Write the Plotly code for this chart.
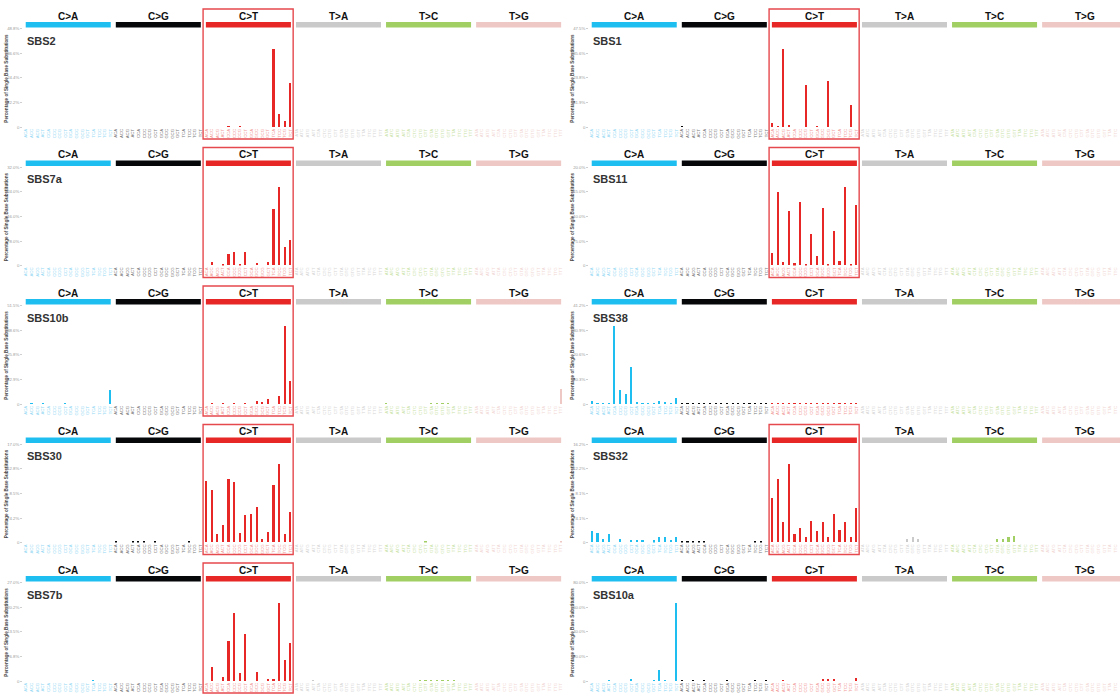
import plotly.graph_objects as go

W, H = 1120, 694

MUTATION_TYPES = ["C>A", "C>G", "C>T", "T>A", "T>C", "T>G"]
TYPE_COLORS = ["#1EBFF0", "#050708", "#E62725", "#CBCACB", "#A1CF64", "#EDC8C5"]
CONTEXT_COLORS = ["#94d8f3", "#777777", "#ef9896", "#d6d6d6", "#c9e2a6", "#f1d6d3"]
BASES = ["A", "C", "G", "T"]

# Percentage of single base substitutions, 96 trinucleotide contexts
# (rows: C>A, C>G, C>T, T>A, T>C, T>G; within each row 5' base slowest, 3' base fastest)
SBS2 = [
    0, 0, 0, 0, 0, 0, 0, 0, 0, 0, 0, 0, 0, 0, 0, 0,
    0, 0, 0, 0, 0, 0, 0, 0, 0, 0, 0, 0, 0, 0, 0, 0,
    0, 0, 0, 0, 0.4, 0, 0.3, 0, 0, 0, 0, 0, 39.0, 6.6, 3.0, 21.8,
    0, 0, 0, 0, 0, 0, 0, 0, 0, 0, 0, 0, 0, 0, 0, 0,
    0, 0, 0, 0, 0, 0, 0, 0, 0, 0, 0, 0, 0, 0, 0, 0,
    0, 0, 0, 0, 0, 0, 0, 0, 0, 0, 0, 0, 0, 0, 0, 0,
]
SBS1 = [
    0, 0, 0, 0, 0, 0, 0, 0, 0, 0, 0, 0, 0, 0, 0, 0,
    0.4, 0, 0, 0, 0, 0, 0, 0, 0, 0, 0, 0, 0, 0, 0, 0,
    2.2, 0.4, 38.0, 1.0, 0, 0, 20.2, 0, 0.4, 0, 22.2, 0, 0, 0, 10.9, 0,
    0, 0, 0, 0, 0, 0, 0, 0, 0, 0, 0, 0, 0, 0, 0, 0,
    0, 0, 0, 0, 0, 0, 0, 0, 0, 0, 0, 0, 0, 0, 0, 0,
    0, 0, 0, 0, 0, 0, 0, 0, 0, 0, 0, 0, 0, 0, 0, 0,
]
SBS7a = [
    0, 0, 0, 0, 0, 0, 0, 0, 0, 0, 0, 0, 0, 0, 0, 0,
    0, 0, 0, 0, 0, 0, 0, 0, 0, 0, 0, 0, 0, 0, 0, 0,
    0, 1.2, 0, 0.4, 3.7, 4.3, 0.4, 4.4, 0, 0.7, 0, 1.2, 18.4, 25.6, 5.8, 8.2,
    0, 0, 0, 0, 0, 0, 0, 0, 0, 0, 0, 0, 0, 0, 0, 0,
    0, 0, 0, 0, 0, 0, 0, 0, 0, 0, 0, 0, 0, 0, 0, 0,
    0, 0, 0, 0, 0, 0, 0, 0, 0, 0, 0, 0, 0, 0, 0, 0,
]
SBS11 = [
    0, 0, 0, 0, 0, 0, 0, 0, 0, 0, 0, 0, 0, 0, 0, 0,
    0, 0, 0, 0, 0, 0, 0, 0, 0, 0, 0, 0, 0, 0, 0, 0,
    2.4, 14.9, 0.7, 11.1, 0.4, 12.8, 0.2, 6.4, 1.9, 11.7, 0.3, 7.0, 0.8, 16.0, 0.2, 12.2,
    0, 0, 0, 0, 0, 0, 0, 0, 0, 0, 0, 0, 0, 0, 0, 0,
    0, 0, 0, 0, 0, 0, 0, 0, 0, 0, 0, 0, 0, 0, 0, 0,
    0, 0, 0, 0, 0, 0, 0, 0, 0, 0, 0, 0, 0, 0, 0, 0,
]
SBS10b = [
    0, 0.4, 0, 0.3, 0, 0, 0, 0.4, 0, 0, 0, 0, 0, 0, 0, 7.6,
    0, 0, 0, 0, 0, 0, 0, 0, 0, 0, 0, 0, 0, 0, 0, 0,
    0, 0.4, 0, 0.4, 0, 0.3, 0, 0.3, 0, 1.5, 1.1, 2.7, 0, 4.1, 41.2, 12.0,
    0, 0, 0, 0, 0, 0, 0, 0, 0, 0, 0, 0, 0, 0, 0, 0,
    0.3, 0, 0, 0, 0, 0, 0, 0, 0.8, 0.5, 0.6, 0.4, 0, 0, 0, 0,
    0, 0, 0, 0, 0, 0, 0, 0, 0, 0, 0, 0, 0, 0, 0, 8.1,
]
SBS38 = [
    1.2, 0.7, 0.2, 0.7, 33.0, 5.9, 4.5, 15.8, 1.0, 0.7, 0.3, 0.7, 1.2, 1.0, 0.3, 2.5,
    0.4, 0.3, 0.3, 0.2, 0.3, 0.2, 0.3, 0.2, 0.2, 0.3, 0.2, 0.2, 0.3, 0.3, 0.4, 0.3,
    0.5, 0.3, 0.4, 0.3, 0.4, 0.3, 0.3, 0.5, 0.3, 0.4, 0.3, 0.4, 0.4, 0.6, 0.3, 0.5,
    0, 0, 0, 0, 0, 0, 0, 0, 0, 0, 0, 0, 0, 0, 0, 0,
    0, 0, 0, 0, 0, 0, 0, 0, 0, 0, 0, 0, 0, 0, 0, 0,
    0, 0, 0, 0, 0, 0, 0, 0, 0, 0, 0, 0, 0, 0, 0, 0,
]
SBS30 = [
    0, 0, 0, 0, 0, 0, 0, 0, 0, 0, 0, 0, 0, 0, 0, 0,
    0.2, 0, 0, 0.3, 0.2, 0.3, 0, 0.2, 0, 0, 0, 0, 0, 0.2, 0, 0,
    10.6, 9.1, 1.4, 3.0, 11.0, 10.5, 1.6, 4.8, 4.9, 6.1, 0.6, 1.8, 9.9, 13.6, 1.5, 5.2,
    0, 0, 0, 0, 0, 0, 0, 0, 0, 0, 0, 0, 0, 0, 0, 0,
    0, 0, 0, 0, 0, 0, 0, 0.3, 0, 0, 0, 0, 0, 0, 0, 0,
    0, 0, 0, 0, 0, 0, 0, 0, 0, 0, 0, 0, 0, 0, 0, 0.2,
]
SBS32 = [
    1.9, 1.5, 0.5, 1.3, 0, 0.5, 0, 0.4, 0.4, 0.4, 0, 0.3, 0.8, 0.8, 0.4, 0.9,
    0.2, 0.2, 0.2, 0.2, 0.2, 0, 0, 0, 0, 0, 0, 0, 0, 0.1, 0.2, 0,
    7.4, 10.5, 3.3, 13.0, 1.4, 2.3, 0.9, 3.6, 1.8, 3.3, 0.9, 4.6, 2.1, 3.4, 0.8, 5.7,
    0, 0, 0, 0, 0, 0, 0, 0, 0.6, 0.8, 0.6, 0, 0, 0, 0, 0,
    0, 0, 0, 0, 0, 0, 0, 0, 0.6, 0.6, 0.8, 1.1, 0, 0, 0, 0,
    0, 0, 0, 0, 0, 0, 0, 0, 0, 0, 0, 0, 0, 0, 0, 0,
]
SBS7b = [
    0, 0, 0, 0, 0, 0, 0, 0, 0, 0, 0, 0, 0.3, 0, 0, 0,
    0, 0, 0, 0, 0, 0, 0, 0, 0, 0, 0, 0, 0, 0, 0, 0,
    0, 3.9, 0, 1.1, 11.0, 18.8, 2.2, 13.0, 0, 2.6, 0, 0.6, 0.6, 21.6, 5.8, 10.4,
    0, 0, 0, 0.3, 0, 0, 0, 0, 0, 0, 0, 0, 0, 0, 0, 0,
    0, 0, 0, 0, 0, 0, 0.2, 0.3, 0.2, 0.4, 0.3, 0.2, 0.3, 0, 0, 0,
    0, 0, 0, 0, 0, 0, 0, 0, 0, 0, 0, 0, 0, 0, 0, 0,
]
SBS10a = [
    0, 0, 0, 1.4, 0, 0, 0, 1.9, 0, 0, 0, 1.4, 9.0, 1.4, 0, 64.0,
    0.3, 0, 0.3, 0, 0.3, 0, 0, 0, 0.3, 0, 0, 0, 0, 0.3, 0, 0.3,
    0, 0, 0.5, 0, 0, 0, 0, 0, 0, 1.7, 1.7, 1.7, 0, 0, 0, 2.6,
    0, 0, 0, 0, 0, 0, 0, 0, 0, 0, 0, 0, 0, 0, 0, 0,
    0, 0, 0, 0, 0, 0, 0, 0, 0, 0, 0, 0, 0, 0, 0, 0,
    0, 0, 0, 0, 0, 0, 0, 0, 0, 0, 0, 0, 0, 0, 0, 0,
]

# (name, values, highlight C>T box), column by column
LEFT_PANELS = [("SBS2", SBS2, True), ("SBS7a", SBS7a, True), ("SBS10b", SBS10b, True),
               ("SBS30", SBS30, True), ("SBS7b", SBS7b, True)]
RIGHT_PANELS = [("SBS1", SBS1, True), ("SBS11", SBS11, True), ("SBS38", SBS38, False),
                ("SBS32", SBS32, True), ("SBS10a", SBS10a, False)]

CONTEXTS = []
CONTEXT_TEXT = []
for k, mt in enumerate(MUTATION_TYPES):
    ref = mt[0]
    for b5 in BASES:
        for b3 in BASES:
            ctx = b5 + ref + b3
            CONTEXTS.append(ctx)
            CONTEXT_TEXT.append(f"<span style='color:{CONTEXT_COLORS[k]}'>{ctx}</span>")
BAR_COLORS = [TYPE_COLORS[i // 16] for i in range(96)]

# page geometry (pixels)
SLOT = 5.63
COL_X0 = [23.2, 589.2]
ROW_PITCH = 139.5
CAT_Y0 = 23.0          # centre of the first row's mutation-type band
BASE_OFFSET = 103.0    # from band centre down to the zero line
TOP_OFFSET = 4.0       # from band centre down to the axis top

FONT = "Liberation Sans, Arial, sans-serif"


def px(x):
    return x / W


def py(y):
    return 1 - y / H


fig = go.Figure()
layout = dict(width=W, height=H, margin=dict(l=0, r=0, t=0, b=0), autosize=False,
              paper_bgcolor="white", plot_bgcolor="white", showlegend=False,
              font=dict(family=FONT), bargap=0)
shapes, annotations = [], []

n = 0
for col, panels in enumerate([LEFT_PANELS, RIGHT_PANELS]):
    x0 = COL_X0[col]
    x_end = min(x0 + 96 * SLOT, W)
    x_hi = -0.5 + (x_end - x0) / SLOT
    for row, (name, vals, box) in enumerate(panels):
        n += 1
        xa = "x" if n == 1 else f"x{n}"
        ya = "y" if n == 1 else f"y{n}"
        xkey = "xaxis" if n == 1 else f"xaxis{n}"
        ykey = "yaxis" if n == 1 else f"yaxis{n}"

        cy = CAT_Y0 + row * ROW_PITCH
        base = cy + BASE_OFFSET
        top = cy + TOP_OFFSET
        ymax = 1.25 * max(vals)
        tickvals = [ymax * i / 4 for i in range(5)]
        ticktext = ["0"] + [f"{v:.1f}%" for v in tickvals[1:]]

        fig.add_trace(go.Bar(x=list(range(96)), y=vals, width=0.38,
                             marker=dict(color=BAR_COLORS, line=dict(width=0)),
                             xaxis=xa, yaxis=ya, hoverinfo="skip"))

        layout[xkey] = dict(domain=[px(x0), px(x_end)], range=[-0.5, x_hi], anchor=ya,
                            tickmode="array", tickvals=list(range(96)), ticktext=CONTEXT_TEXT,
                            tickangle=-90, tickfont=dict(size=4.3, family=FONT),
                            showgrid=False, zeroline=False, showline=False, ticks="",
                            fixedrange=True)
        layout[ykey] = dict(domain=[py(base), py(top)], range=[0, ymax], anchor=xa,
                            tickmode="array", tickvals=tickvals, ticktext=ticktext,
                            tickfont=dict(size=4.3, color="#9a9a9a", family=FONT),
                            ticks="outside", ticklen=2, tickcolor="#cfcfcf",
                            showgrid=False, zeroline=False, showline=False, fixedrange=True)

        # mutation-type bands with their labels
        for k, mt in enumerate(MUTATION_TYPES):
            shapes.append(dict(type="rect", xref=xa, yref="paper",
                               x0=16 * k - 0.5 + 0.45, x1=16 * k + 15.5 - 0.45,
                               y0=py(cy + 2.8), y1=py(cy - 2.8),
                               fillcolor=TYPE_COLORS[k], line=dict(width=0), layer="above"))
            annotations.append(dict(xref=xa, yref="paper", x=16 * k + 7.5, y=py(cy - 8.5),
                                    text=f"<b>{mt}</b>", showarrow=False,
                                    xanchor="center", yanchor="middle",
                                    font=dict(size=10, color="#111111", family=FONT)))

        # signature name
        annotations.append(dict(xref="paper", yref="paper", x=px(x0 + 1.5), y=py(cy + 16),
                                text=f"<b>{name}</b>", showarrow=False,
                                xanchor="left", yanchor="middle",
                                font=dict(size=11, color="#333333", family=FONT)))

        # y-axis title
        annotations.append(dict(xref="paper", yref="paper", x=px(x0 - 16.5),
                                y=py((base + top) / 2),
                                text="<b>Percentage of Single Base Substitutions</b>",
                                showarrow=False, textangle=-90,
                                xanchor="center", yanchor="middle",
                                font=dict(size=4.6, color="#444444", family=FONT)))

        # C>T highlight box
        if box:
            shapes.append(dict(type="rect", xref=xa, yref="paper",
                               x0=31.45, x1=47.45, y0=py(base + 12), y1=py(cy - 16),
                               line=dict(color="#E5484D", width=1.4),
                               fillcolor="rgba(0,0,0,0)", layer="above"))

layout["shapes"] = shapes
layout["annotations"] = annotations
fig.update_layout(**layout)
fig.write_html("out.html")
